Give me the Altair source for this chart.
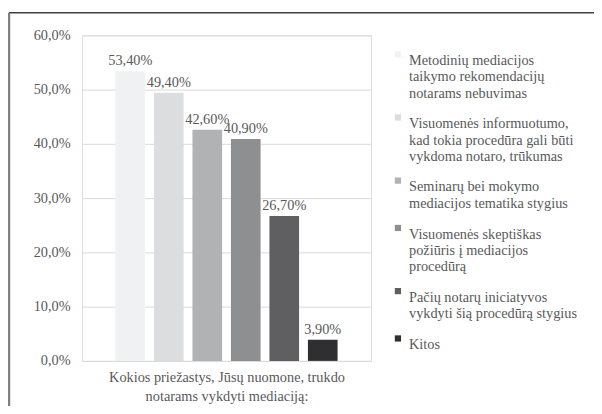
import altair as alt
import pandas as pd

categories = [
    "Metodinių mediacijos\ntaikymo rekomendacijų\nnotarams nebuvimas",
    "Visuomenės informuotumo,\nkad tokia procedūra gali būti\nvykdoma notaro, trūkumas",
    "Seminarų bei mokymo\nmediacijos tematika stygius",
    "Visuomenės skeptiškas\npožiūris į mediacijos\nprocedūrą",
    "Pačių notarų iniciatyvos\nvykdyti šią procedūrą stygius",
    "Kitos",
]
values = [53.4, 49.4, 42.6, 40.9, 26.7, 3.9]
colors = ["#f0f1f3", "#dcdddf", "#b1b2b4", "#8e8f91", "#5f5f61", "#2f2e30"]
x_title = ["Kokios priežastys, Jūsų nuomone, trukdo", "notarams vykdyti mediaciją:"]
y_ticks = [0, 10, 20, 30, 40, 50, 60]

df = pd.DataFrame({"category": categories, "value": values})
df["label"] = [f"{v:.2f}".replace(".", ",") + "%" for v in values]

FONT = "'Liberation Serif', 'DejaVu Serif', serif"
TXT = "#595959"

x_enc = alt.X(
    "category:N",
    sort=categories,
    scale=alt.Scale(paddingInner=0.23, paddingOuter=0.87),
    axis=alt.Axis(labels=False, ticks=False, domain=False, title=x_title,
                  titleFont=FONT, titleFontSize=14.5, titleColor=TXT,
                  titleFontWeight="normal", titlePadding=10, titleLineHeight=19),
)
y_enc = alt.Y(
    "value:Q",
    scale=alt.Scale(domain=[0, 60], nice=False),
    axis=alt.Axis(values=y_ticks, title=None, domain=False, ticks=False,
                  labelExpr="replace(format(datum.value, '.1f'), '.', ',') + '%'",
                  labelFont=FONT, labelFontSize=14.5, labelColor=TXT, labelPadding=12,
                  gridColor="#d9d9d9", gridWidth=1),
)

bars = alt.Chart(df).mark_bar().encode(
    x=x_enc,
    y=y_enc,
    color=alt.Color(
        "category:N",
        sort=categories,
        scale=alt.Scale(domain=categories, range=colors),
        legend=alt.Legend(
            title=None, orient="none", legendX=313, legendY=12,
            labelExpr="split(datum.label, '\\n')",
            labelFont=FONT, labelFontSize=14.5, labelColor=TXT,
            labelLimit=400, symbolType="square", symbolSize=40,
            symbolStrokeWidth=0, rowPadding=10, labelBaseline="top",
            labelOffset=4,
        ),
    ),
)

texts = alt.Chart(df).mark_text(
    baseline="alphabetic", dy=-6, font=FONT, fontSize=14.5, color=TXT
).encode(
    x=alt.X("category:N", sort=categories),
    y="value:Q",
    text="label:N",
)

frame_data = alt.Data(values=[{"a": 1}])
top_line = alt.Chart(frame_data).mark_rule(color="#404040", strokeWidth=1.5).encode(
    x=alt.value(-74), x2=alt.value(600), y=alt.value(-23)
)
left_line = alt.Chart(frame_data).mark_rule(color="#808080", strokeWidth=2.5).encode(
    x=alt.value(-74), y=alt.value(-23), y2=alt.value(500)
)

chart = alt.layer(bars, texts, top_line, left_line).properties(
    width=293,
    height=330,
    autosize=alt.AutoSizeParams(type="none"),
    padding={"left": 75, "top": 25, "right": 226, "bottom": 43},
).configure_view(stroke=None).configure(background="white", font=FONT)

chart.save("out.html", embed_options={"renderer": "svg", "actions": False})
